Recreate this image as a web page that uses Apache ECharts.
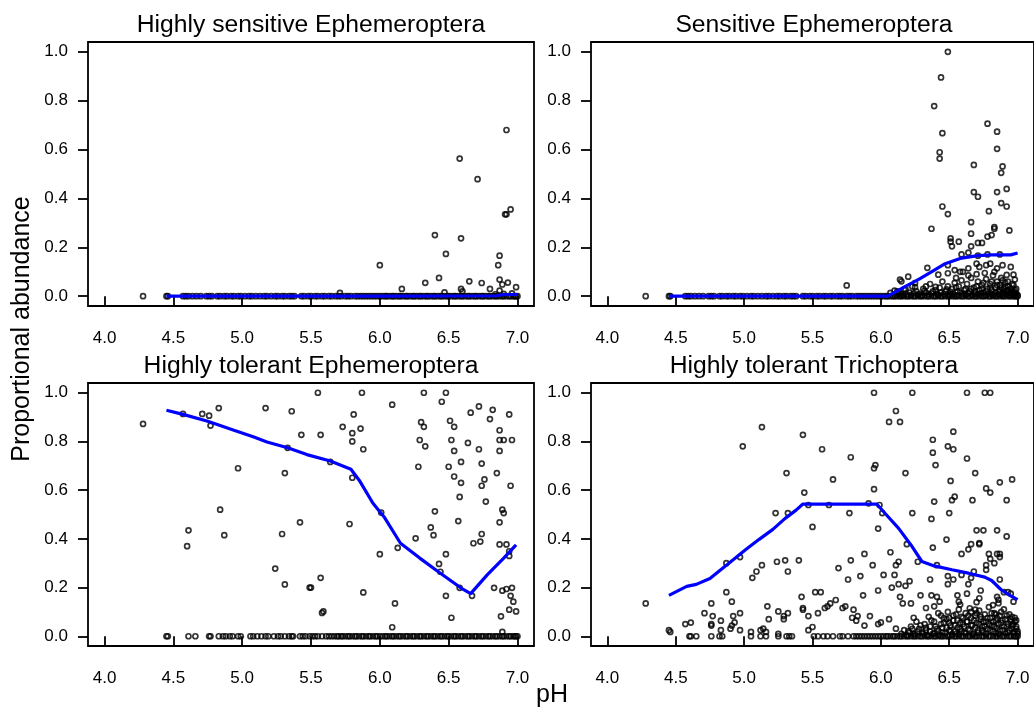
<!DOCTYPE html>
<html>
<head>
<meta charset="utf-8">
<script src="https://cdn.jsdelivr.net/npm/echarts@6/dist/echarts.min.js"></script>
<style>
  html, body { margin: 0; padding: 0; background: #fff; }
  #chart { width: 1034px; height: 707px; }
</style>
</head>
<body>
<div id="chart"></div>
<script>
// panel titles and tick values
var panelTitles = ['Highly sensitive Ephemeroptera', 'Sensitive Ephemeroptera',
                   'Highly tolerant Ephemeroptera', 'Highly tolerant Trichoptera'];
var xTicks = [4.0, 4.5, 5.0, 5.5, 6.0, 6.5, 7.0];
var yTicks = [0.0, 0.2, 0.4, 0.6, 0.8, 1.0];

// sites with zero abundance (pH), shared rows
var zeroLow = [4.28, 4.45, 4.46, 4.57, 4.59, 4.61, 4.64, 4.67, 4.70, 4.74, 4.76, 4.78, 4.82, 4.84, 4.87, 4.89,
               4.92, 4.94, 4.97, 4.99, 5.02, 5.05, 5.07, 5.10, 5.13, 5.16, 5.18, 5.21, 5.24, 5.26, 5.29, 5.31,
               5.34, 5.36, 5.38, 5.43, 5.45, 5.48, 5.50, 5.53, 5.55, 5.58, 5.60, 5.63, 5.65, 5.68, 5.70, 5.72,
               5.75, 5.77, 5.79, 5.82, 5.84, 5.86, 5.88, 5.90, 5.92, 5.94, 5.96, 5.98];
var zeroHigh = [6.00, 6.02, 6.04, 6.05, 6.07, 6.09, 6.10, 6.12, 6.14, 6.15, 6.17, 6.19, 6.20, 6.22, 6.24, 6.25,
                6.27, 6.29, 6.30, 6.32, 6.34, 6.35, 6.37, 6.39, 6.40, 6.42, 6.44, 6.45, 6.47, 6.49, 6.50, 6.52,
                6.54, 6.55, 6.57, 6.59, 6.60, 6.62, 6.64, 6.65, 6.67, 6.69, 6.70, 6.72, 6.74, 6.75, 6.77, 6.79,
                6.80, 6.82, 6.84, 6.85, 6.87, 6.89, 6.90, 6.92, 6.94, 6.95, 6.97, 6.98, 6.99, 7.00];
var zeroTolE = [4.45, 4.46, 4.61, 4.66, 4.76, 4.77, 4.83, 4.86, 4.88, 4.91, 4.93, 4.97, 4.99, 5.06, 5.08, 5.11,
                5.14, 5.17, 5.19, 5.23, 5.26, 5.28, 5.31, 5.34, 5.36, 5.37, 5.42, 5.44, 5.46, 5.49, 5.51, 5.53,
                5.55, 5.58, 5.61, 5.63, 5.65, 5.67, 5.69, 5.70, 5.72, 5.73, 5.75, 5.77, 5.78, 5.80, 5.82, 5.83,
                5.85, 5.87, 5.88, 5.90, 5.92, 5.93, 5.95, 5.97, 5.98];
var zeroTolT = [4.60, 4.61, 4.65, 4.76, 4.82, 4.84, 5.05, 5.12, 5.16, 5.25, 5.31, 5.33, 5.35, 5.51, 5.54, 5.58,
                5.61, 5.65, 5.70, 5.72, 5.76, 5.80, 5.82, 5.84, 5.86, 5.88, 5.90, 5.92, 5.94, 5.96, 5.98];

// Highly sensitive Ephemeroptera: non-zero points [pH, abundance]
var hsPts = [[5.71, 0.014], [6.00, 0.127], [6.16, 0.030], [6.33, 0.055], [6.40, 0.250], [6.43, 0.075],
             [6.48, 0.173], [6.47, 0.016], [6.58, 0.563], [6.59, 0.237], [6.59, 0.030], [6.60, 0.020],
             [6.65, 0.061], [6.71, 0.479], [6.74, 0.054], [6.80, 0.030], [6.86, 0.127], [6.87, 0.166],
             [6.87, 0.068], [6.89, 0.048], [6.92, 0.680], [6.91, 0.335], [6.92, 0.335], [6.95, 0.355],
             [6.93, 0.056], [6.99, 0.037], [6.87, 0.023], [6.90, 0.010], [6.96, 0.012], [6.84, 0.008]];
var hsFitPH = [4.45, 5.00, 5.50, 6.00, 6.50, 6.85, 6.88, 7.00];
var hsFit   = [0.000, 0.000, 0.000, 0.000, 0.001, 0.002, 0.006, 0.007];

// Sensitive Ephemeroptera
var sPts = [[5.75, 0.044], [6.49, 1.000], [6.44, 0.895], [6.39, 0.778], [6.45, 0.667], [6.43, 0.589],
            [6.43, 0.563], [6.45, 0.367], [6.49, 0.336], [6.37, 0.276], [6.34, 0.116], [6.78, 0.706],
            [6.85, 0.673], [6.85, 0.603], [6.68, 0.537], [6.89, 0.531], [6.88, 0.505], [6.68, 0.426],
            [6.71, 0.407], [6.85, 0.426], [6.92, 0.439], [6.88, 0.381], [6.92, 0.367], [6.79, 0.348],
            [6.66, 0.303], [6.94, 0.269], [6.66, 0.256], [6.83, 0.283], [6.83, 0.276], [6.51, 0.237],
            [6.51, 0.223], [6.52, 0.204], [6.57, 0.223], [6.66, 0.204], [6.71, 0.218], [6.74, 0.218],
            [6.78, 0.244], [6.81, 0.250], [6.64, 0.178], [6.59, 0.171], [6.71, 0.166], [6.78, 0.171],
            [6.87, 0.171], [6.49, 0.127], [6.70, 0.133], [6.72, 0.120], [6.77, 0.127], [6.80, 0.133],
            [6.89, 0.127], [6.95, 0.120], [6.42, 0.088], [6.49, 0.094], [6.54, 0.107], [6.60, 0.100],
            [6.64, 0.114], [6.85, 0.114], [6.92, 0.087], [6.97, 0.088], [6.98, 0.068], [6.14, 0.068],
            [6.15, 0.061], [6.20, 0.080], [6.25, 0.054], [6.25, 0.037], [6.33, 0.040], [6.40, 0.038],
            [6.07, 0.014], [6.10, 0.023], [6.17, 0.027],
            [6.12, 0.020], [6.15, 0.010], [6.18, 0.030], [6.21, 0.015], [6.23, 0.040], [6.26, 0.020],
            [6.28, 0.010], [6.31, 0.030], [6.33, 0.015], [6.36, 0.050], [6.38, 0.020], [6.41, 0.010],
            [6.43, 0.035], [6.45, 0.060], [6.47, 0.020], [6.49, 0.040], [6.51, 0.010], [6.52, 0.030],
            [6.54, 0.055], [6.56, 0.020], [6.57, 0.040], [6.59, 0.065], [6.60, 0.010], [6.62, 0.030],
            [6.63, 0.050], [6.65, 0.020], [6.66, 0.075], [6.68, 0.035], [6.69, 0.010], [6.71, 0.060],
            [6.72, 0.025], [6.74, 0.045], [6.75, 0.015], [6.77, 0.070], [6.78, 0.030], [6.80, 0.050],
            [6.81, 0.010], [6.82, 0.085], [6.84, 0.035], [6.85, 0.060], [6.86, 0.020], [6.87, 0.045],
            [6.88, 0.075], [6.89, 0.010], [6.90, 0.030], [6.91, 0.055], [6.92, 0.020], [6.93, 0.040],
            [6.94, 0.015], [6.95, 0.030], [6.96, 0.050], [6.97, 0.020], [6.98, 0.010], [6.99, 0.030],
            [6.70, 0.090], [6.64, 0.085], [6.58, 0.100], [6.83, 0.100], [6.76, 0.095], [6.55, 0.075]];
// dense low-abundance sites, Sensitive Ephemeroptera
var sLow = [[6.11, 0.005], [6.13, 0.012], [6.16, 0.004], [6.19, 0.008], [6.22, 0.005], [6.24, 0.012],
            [6.27, 0.006], [6.30, 0.004], [6.32, 0.022], [6.35, 0.008], [6.37, 0.012], [6.40, 0.025],
            [6.42, 0.006], [6.44, 0.015], [6.46, 0.008], [6.48, 0.028], [6.50, 0.005], [6.51, 0.018],
            [6.53, 0.008], [6.55, 0.035], [6.56, 0.005], [6.58, 0.015], [6.61, 0.025], [6.62, 0.006],
            [6.64, 0.012], [6.66, 0.030], [6.67, 0.005], [6.69, 0.020], [6.70, 0.040], [6.71, 0.008],
            [6.73, 0.012], [6.74, 0.030], [6.76, 0.005], [6.77, 0.020], [6.79, 0.010], [6.80, 0.035],
            [6.81, 0.025], [6.83, 0.006], [6.84, 0.015], [6.85, 0.045], [6.86, 0.008], [6.87, 0.025],
            [6.88, 0.035], [6.89, 0.005], [6.90, 0.015], [6.91, 0.040], [6.92, 0.008], [6.93, 0.025],
            [6.94, 0.005], [6.95, 0.012], [6.96, 0.020], [6.97, 0.006], [6.98, 0.025], [6.99, 0.012],
            [7.00, 0.005], [6.97, 0.045], [6.93, 0.060], [6.89, 0.065], [6.81, 0.060], [6.75, 0.055]];
var sFitPH = [4.45, 5.00, 5.50, 6.05, 6.18, 6.28, 6.37, 6.47, 6.59, 6.71, 6.81, 6.95, 7.00];
var sFit   = [0.000, 0.000, 0.000, 0.000, 0.040, 0.070, 0.100, 0.133, 0.156, 0.166, 0.169, 0.169, 0.177];

// Highly tolerant Ephemeroptera
var tePts = [[4.28, 0.872], [4.57, 0.913], [4.71, 0.913], [4.76, 0.906], [4.77, 0.865], [4.83, 0.937],
             [4.97, 0.690], [4.60, 0.370], [4.61, 0.435], [4.84, 0.520], [4.87, 0.415], [5.17, 0.937],
             [5.36, 0.924], [5.43, 0.827], [5.33, 0.774], [5.31, 0.670], [5.29, 0.420], [5.42, 0.468],
             [5.24, 0.278], [5.31, 0.213], [5.49, 0.200], [5.50, 0.200], [5.57, 0.240], [5.58, 0.096],
             [5.59, 0.102], [5.55, 1.000], [5.57, 0.827], [5.64, 0.716], [5.73, 0.860], [5.80, 0.834],
             [5.80, 0.800], [5.81, 0.911], [5.86, 0.853], [5.87, 1.000], [5.88, 0.768], [5.80, 0.651],
             [5.78, 0.461], [5.88, 0.180], [6.09, 0.951], [6.01, 0.508], [6.00, 0.337], [6.13, 0.363],
             [6.11, 0.135], [6.09, 0.037], [6.32, 1.000], [6.48, 1.000], [6.45, 0.963], [6.30, 0.879],
             [6.32, 0.860], [6.29, 0.806], [6.33, 0.780], [6.28, 0.696], [6.51, 0.885], [6.54, 0.860],
             [6.52, 0.806], [6.54, 0.761], [6.50, 0.696], [6.59, 0.716], [6.54, 0.656], [6.59, 0.630],
             [6.58, 0.572], [6.40, 0.513], [6.57, 0.473], [6.37, 0.447], [6.39, 0.415], [6.26, 0.402],
             [6.48, 0.337], [6.43, 0.297], [6.44, 0.265], [6.58, 0.199], [6.48, 0.166], [6.52, 0.076],
             [6.66, 0.918], [6.72, 0.944], [6.82, 0.930], [6.94, 0.911], [6.80, 0.892], [6.87, 0.846],
             [6.87, 0.806], [6.90, 0.806], [6.96, 0.806], [6.64, 0.794], [6.72, 0.768], [6.87, 0.761],
             [6.74, 0.709], [6.85, 0.670], [6.76, 0.644], [6.74, 0.618], [6.95, 0.618], [6.77, 0.553],
             [6.89, 0.520], [6.90, 0.506], [6.87, 0.468], [6.74, 0.420], [6.68, 0.382], [6.73, 0.389],
             [6.87, 0.377], [6.92, 0.377], [6.94, 0.349], [6.94, 0.330], [6.67, 0.166], [6.83, 0.199],
             [6.89, 0.187], [6.92, 0.194], [6.96, 0.199], [6.95, 0.166], [6.97, 0.142], [6.88, 0.082],
             [6.94, 0.109], [6.99, 0.102], [6.89, 0.018]];
var teFitPH = [4.45, 4.57, 4.75, 4.94, 5.08, 5.18, 5.33, 5.47, 5.64, 5.79, 5.85, 5.95, 6.03, 6.15,
               6.29, 6.44, 6.59, 6.66, 6.78, 6.90, 6.99];
var teFit   = [0.928, 0.911, 0.883, 0.846, 0.819, 0.798, 0.774, 0.746, 0.720, 0.686, 0.641, 0.546,
               0.491, 0.382, 0.321, 0.259, 0.198, 0.175, 0.252, 0.321, 0.375];

// Highly tolerant Trichoptera
var ttPts = [[4.28, 0.135], [4.45, 0.025], [4.46, 0.018], [4.57, 0.050], [4.61, 0.056], [4.71, 0.095],
             [4.76, 0.135], [4.77, 0.083], [4.76, 0.050], [4.76, 0.044], [4.83, 0.064], [4.83, 0.025],
             [4.87, 0.181], [4.87, 0.300], [4.91, 0.142], [4.92, 0.083], [4.91, 0.044], [4.90, 0.031],
             [4.97, 0.095], [4.97, 0.025], [4.97, 0.325], [4.93, 0.057], [4.99, 0.780], [5.05, 0.018],
             [5.06, 0.240], [5.09, 0.266], [5.13, 0.292], [5.13, 0.859], [5.12, 0.025], [5.14, 0.031],
             [5.16, 0.018], [5.17, 0.123], [5.18, 0.070], [5.23, 0.506], [5.24, 0.306], [5.25, 0.010],
             [5.25, 0.102], [5.29, 0.083], [5.29, 0.070], [5.30, 0.312], [5.31, 0.670], [5.32, 0.506],
             [5.32, 0.266], [5.32, 0.095], [5.40, 0.312], [5.42, 0.162], [5.43, 0.827], [5.43, 0.116],
             [5.43, 0.109], [5.44, 0.590], [5.47, 0.539], [5.47, 0.083], [5.47, 0.025], [5.50, 0.449],
             [5.50, 0.038], [5.52, 0.181], [5.56, 0.181], [5.54, 0.095], [5.57, 0.768], [5.59, 0.116],
             [5.61, 0.123], [5.62, 0.539], [5.63, 0.135], [5.65, 0.644], [5.67, 0.149], [5.69, 0.280],
             [5.72, 0.116], [5.74, 0.123], [5.77, 0.506], [5.76, 0.233], [5.78, 0.312], [5.78, 0.735],
             [5.80, 0.109], [5.79, 0.076], [5.82, 0.064], [5.83, 0.083], [5.85, 0.247], [5.87, 0.168],
             [5.88, 0.338], [5.88, 0.044], [5.91, 0.546], [5.92, 0.083], [5.94, 0.292], [5.95, 0.690],
             [5.96, 0.703], [5.95, 0.604], [5.95, 1.000], [5.98, 0.188], [5.98, 0.442], [5.99, 0.539],
             [5.98, 0.050], [6.00, 0.057], [6.01, 0.506], [6.02, 0.252], [6.06, 0.880], [6.07, 0.345],
             [6.08, 0.200], [6.10, 0.252], [6.11, 0.925], [6.14, 0.880], [6.11, 0.292], [6.13, 0.306],
             [6.13, 0.214], [6.14, 0.162], [6.16, 0.135], [6.18, 0.670], [6.18, 0.207], [6.19, 0.378],
             [6.21, 0.226], [6.23, 1.000], [6.23, 0.506], [6.22, 0.135], [6.24, 0.076], [6.27, 0.306],
             [6.29, 0.168], [6.06, 0.070], [6.11, 0.031], [6.33, 0.116], [6.36, 0.233], [6.37, 0.482],
             [6.38, 0.364], [6.38, 0.754], [6.38, 0.807], [6.39, 0.553], [6.40, 0.703], [6.41, 0.292],
             [6.39, 0.123], [6.37, 0.168], [6.41, 0.162], [6.43, 0.142], [6.48, 0.397], [6.49, 0.247],
             [6.49, 0.214], [6.50, 0.506], [6.51, 0.638], [6.52, 0.559], [6.53, 0.840], [6.53, 0.768],
             [6.49, 0.780], [6.54, 0.573], [6.53, 0.233], [6.56, 0.168], [6.57, 0.142], [6.59, 0.338],
             [6.59, 0.252], [6.63, 0.730], [6.63, 0.175], [6.64, 0.357], [6.64, 0.214], [6.66, 0.378],
             [6.66, 0.240], [6.67, 0.559], [6.68, 0.266], [6.69, 0.670], [6.70, 0.435], [6.75, 0.435],
             [6.72, 0.383], [6.72, 0.378], [6.73, 0.188], [6.72, 0.156], [6.69, 0.109], [6.77, 0.292],
             [6.77, 0.273], [6.77, 0.607], [6.80, 0.590], [6.79, 0.338], [6.80, 0.318], [6.83, 0.300],
             [6.85, 0.435], [6.85, 0.338], [6.87, 0.338], [6.87, 0.325], [6.87, 0.632], [6.87, 0.233],
             [6.92, 0.410], [6.92, 0.559], [6.96, 0.644], [6.85, 0.162], [6.82, 0.128], [6.86, 0.136],
             [6.90, 0.181], [6.93, 0.181], [6.95, 0.175], [6.97, 0.142], [6.98, 0.076], [6.63, 1.000],
             [6.76, 1.000], [6.80, 1.000],
             [6.20, 0.020], [6.22, 0.040], [6.24, 0.010], [6.26, 0.060], [6.28, 0.030], [6.30, 0.015],
             [6.32, 0.050], [6.33, 0.025], [6.35, 0.080], [6.36, 0.040], [6.38, 0.010], [6.39, 0.060],
             [6.41, 0.030], [6.42, 0.095], [6.44, 0.050], [6.45, 0.015], [6.46, 0.075], [6.48, 0.035],
             [6.49, 0.100], [6.50, 0.055], [6.51, 0.020], [6.53, 0.085], [6.54, 0.045], [6.55, 0.010],
             [6.56, 0.065], [6.57, 0.110], [6.58, 0.030], [6.59, 0.080], [6.60, 0.050], [6.61, 0.015],
             [6.62, 0.095], [6.63, 0.060], [6.64, 0.030], [6.65, 0.115], [6.66, 0.075], [6.67, 0.045],
             [6.68, 0.010], [6.69, 0.085], [6.70, 0.055], [6.71, 0.025], [6.72, 0.105], [6.73, 0.070],
             [6.74, 0.040], [6.75, 0.015], [6.76, 0.090], [6.77, 0.060], [6.78, 0.030], [6.79, 0.120],
             [6.80, 0.075], [6.81, 0.045], [6.82, 0.020], [6.83, 0.095], [6.84, 0.065], [6.85, 0.035],
             [6.86, 0.010], [6.87, 0.085], [6.88, 0.055], [6.89, 0.025], [6.90, 0.110], [6.91, 0.070],
             [6.92, 0.040], [6.93, 0.015], [6.94, 0.090], [6.95, 0.060], [6.96, 0.030], [6.97, 0.050],
             [6.98, 0.020], [6.99, 0.040], [7.00, 0.010], [6.58, 0.130], [6.70, 0.140], [6.86, 0.150]];
// dense low-abundance sites, Highly tolerant Trichoptera
var ttLow = [[6.15, 0.010], [6.17, 0.025], [6.19, 0.005], [6.21, 0.015], [6.23, 0.030], [6.25, 0.008],
             [6.27, 0.020], [6.29, 0.045], [6.31, 0.010], [6.33, 0.035], [6.34, 0.005], [6.36, 0.020],
             [6.37, 0.065], [6.39, 0.012], [6.40, 0.040], [6.42, 0.022], [6.43, 0.006], [6.45, 0.035],
             [6.46, 0.055], [6.47, 0.012], [6.48, 0.070], [6.50, 0.025], [6.51, 0.045], [6.52, 0.008],
             [6.53, 0.065], [6.54, 0.020], [6.55, 0.090], [6.56, 0.035], [6.57, 0.008], [6.58, 0.055],
             [6.59, 0.020], [6.60, 0.075], [6.61, 0.040], [6.62, 0.012], [6.63, 0.060], [6.64, 0.085],
             [6.65, 0.025], [6.66, 0.045], [6.67, 0.008], [6.68, 0.065], [6.69, 0.035], [6.70, 0.095],
             [6.71, 0.015], [6.72, 0.050], [6.73, 0.080], [6.74, 0.025], [6.75, 0.060], [6.76, 0.040],
             [6.77, 0.010], [6.78, 0.075], [6.79, 0.050], [6.80, 0.025], [6.81, 0.095], [6.82, 0.060],
             [6.83, 0.040], [6.84, 0.012], [6.85, 0.075], [6.86, 0.050], [6.87, 0.025], [6.88, 0.100],
             [6.89, 0.065], [6.90, 0.040], [6.91, 0.012], [6.92, 0.085], [6.93, 0.050], [6.94, 0.025],
             [6.95, 0.070], [6.96, 0.045], [6.97, 0.015], [6.98, 0.060], [6.99, 0.030], [7.00, 0.020],
             [6.96, 0.080], [6.99, 0.065], [6.84, 0.090], [6.66, 0.100], [6.44, 0.085], [6.50, 0.075]];
var ttFitPH = [4.45, 4.58, 4.65, 4.75, 4.82, 4.92, 5.01, 5.11, 5.21, 5.30, 5.38, 5.43, 5.97, 6.03,
               6.13, 6.22, 6.30, 6.39, 6.52, 6.64, 6.76, 6.81, 6.88, 6.95, 7.00];
var ttFit   = [0.168, 0.205, 0.213, 0.237, 0.269, 0.314, 0.355, 0.398, 0.439, 0.484, 0.518, 0.543,
               0.543, 0.505, 0.443, 0.375, 0.307, 0.289, 0.273, 0.259, 0.243, 0.229, 0.191, 0.166, 0.150];

var FONT = 'Liberation Sans';
var gridPos = [
    {left: 88, top: 42, width: 446, height: 264},
    {left: 591, top: 42, width: 446, height: 264},
    {left: 88, top: 383, width: 446, height: 263},
    {left: 591, top: 383, width: 446, height: 263}
];
var titlePos = [[311, 25], [814, 25], [311, 366], [814, 366]];

function withZeros(pts, zeroLists) {
    var out = pts.slice();
    zeroLists.forEach(function (list) {
        list.forEach(function (x) { out.push([x, 0]); });
    });
    return out;
}
function zip(xs, ys) {
    return xs.map(function (x, i) { return [x, ys[i]]; });
}

var panels = [
    {pts: withZeros(hsPts, [zeroLow, zeroHigh]), fit: zip(hsFitPH, hsFit)},
    {pts: withZeros(sPts.concat(sLow), [zeroLow, zeroHigh]), fit: zip(sFitPH, sFit)},
    {pts: withZeros(tePts, [zeroTolE, zeroHigh]), fit: zip(teFitPH, teFit)},
    {pts: withZeros(ttPts.concat(ttLow), [zeroTolT, zeroHigh]), fit: zip(ttFitPH, ttFit)}
];

var grids = [], xAxes = [], yAxes = [], series = [], graphics = [];
for (var i = 0; i < 4; i++) {
    grids.push(Object.assign({show: true, borderColor: '#000', borderWidth: 1.8,
                              backgroundColor: 'transparent'}, gridPos[i]));
    xAxes.push({
        type: 'value', gridIndex: i, min: 3.88, max: 7.12,
        splitLine: {show: false},
        axisLine: {show: false},
        axisTick: {show: true, customValues: xTicks, length: 10, inside: false,
                   lineStyle: {color: '#000', width: 1.8}},
        axisLabel: {customValues: xTicks, margin: 24, color: '#000', fontFamily: FONT, fontSize: 17,
                    formatter: function (v) { return v.toFixed(1); }}
    });
    yAxes.push({
        type: 'value', gridIndex: i, min: -0.04, max: 1.04,
        splitLine: {show: false},
        axisLine: {show: false},
        axisTick: {show: true, customValues: yTicks, length: 10, inside: false,
                   lineStyle: {color: '#000', width: 1.8}},
        axisLabel: {customValues: yTicks, margin: 20, color: '#000', fontFamily: FONT, fontSize: 17,
                    formatter: function (v) { return v.toFixed(1); }}
    });
    series.push({
        type: 'scatter', xAxisIndex: i, yAxisIndex: i, data: panels[i].pts,
        symbol: 'circle', symbolSize: 5, silent: true,
        itemStyle: {color: 'rgba(0,0,0,0)', borderColor: '#000', borderWidth: 1.7}
    });
    series.push({
        type: 'line', xAxisIndex: i, yAxisIndex: i, data: panels[i].fit,
        symbol: 'none', silent: true, z: 5,
        lineStyle: {color: '#0000ff', width: 3.2}
    });
    graphics.push({
        type: 'text', x: titlePos[i][0], y: titlePos[i][1],
        style: {text: panelTitles[i], fill: '#000', font: '24.7px "' + FONT + '"',
                textAlign: 'center', textVerticalAlign: 'middle'}
    });
}
graphics.push({
    type: 'text', x: 22, y: 329, rotation: Math.PI / 2,
    style: {text: 'Proportional abundance', fill: '#000', font: '25px "' + FONT + '"',
            textAlign: 'center', textVerticalAlign: 'middle'}
});
graphics.push({
    type: 'text', x: 552, y: 695,
    style: {text: 'pH', fill: '#000', font: '25px "' + FONT + '"',
            textAlign: 'center', textVerticalAlign: 'middle'}
});

var myChart = echarts.init(document.getElementById('chart'));
myChart.setOption({
    animation: false,
    backgroundColor: '#fff',
    grid: grids,
    xAxis: xAxes,
    yAxis: yAxes,
    series: series,
    graphic: graphics
});
window.addEventListener('resize', function () {
    myChart.resize();
});
</script>
</body>
</html>
